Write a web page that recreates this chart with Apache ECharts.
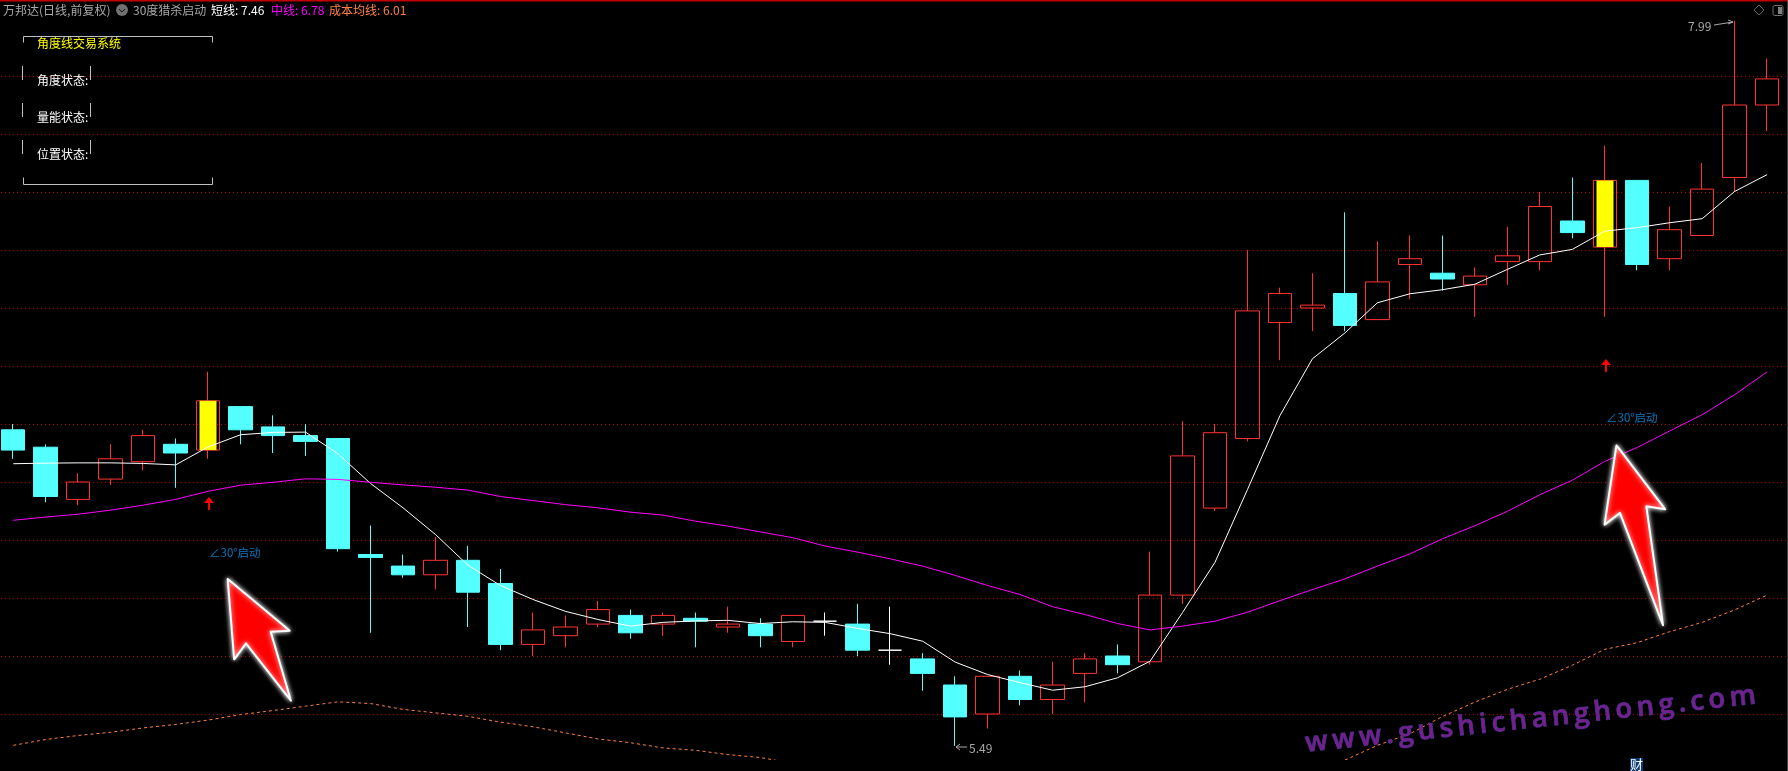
<!DOCTYPE html>
<html>
<head>
<meta charset="utf-8">
<title>万邦达</title>
<style>
  html, body { margin: 0; padding: 0; background: #000; }
  #main { width: 1788px; height: 771px; }
</style>
<script src="https://cdn.jsdelivr.net/npm/echarts@6/dist/echarts.min.js"></script>
</head>
<body>
<div id="main"></div>
<script>
// 日线数据
const openPrice = [6.58, 6.52, 6.34, 6.41, 6.47, 6.53, 6.51, 6.66, 6.59, 6.56, 6.55, 6.15, 6.11, 6.08, 6.13, 6.05, 5.84, 5.87, 5.91, 5.94, 5.91, 5.93, 5.90, 5.91, 5.85, 5.92, 5.91, 5.82, 5.79, 5.70, 5.60, 5.73, 5.65, 5.74, 5.80, 5.78, 6.01, 6.31, 6.55, 6.95, 7.00, 7.05, 6.96, 7.15, 7.12, 7.08, 7.16, 7.16, 7.30, 7.21, 7.44, 7.17, 7.25, 7.45, 7.70];
const closePrice = [6.51, 6.35, 6.40, 6.48, 6.56, 6.50, 6.68, 6.58, 6.56, 6.54, 6.17, 6.14, 6.08, 6.13, 6.02, 5.84, 5.89, 5.90, 5.96, 5.88, 5.94, 5.92, 5.91, 5.87, 5.94, 5.92, 5.82, 5.82, 5.74, 5.59, 5.73, 5.65, 5.70, 5.79, 5.77, 6.01, 6.49, 6.57, 6.99, 7.05, 7.01, 6.94, 7.09, 7.17, 7.10, 7.11, 7.18, 7.35, 7.26, 7.44, 7.15, 7.27, 7.41, 7.70, 7.79];
const lowPrice = [6.48, 6.33, 6.32, 6.39, 6.44, 6.38, 6.48, 6.53, 6.50, 6.49, 6.16, 5.88, 6.07, 6.03, 5.90, 5.82, 5.80, 5.83, 5.90, 5.86, 5.87, 5.83, 5.88, 5.83, 5.83, 5.87, 5.80, 5.77, 5.68, 5.49, 5.55, 5.63, 5.60, 5.64, 5.74, 5.77, 5.98, 6.30, 6.54, 6.82, 6.92, 6.92, 6.96, 7.03, 7.06, 6.97, 7.08, 7.13, 7.24, 6.97, 7.13, 7.13, 7.25, 7.40, 7.61];
const highPrice = [6.60, 6.53, 6.43, 6.53, 6.58, 6.55, 6.78, 6.66, 6.63, 6.60, 6.55, 6.25, 6.15, 6.21, 6.18, 6.10, 5.95, 5.94, 5.99, 5.96, 5.95, 5.95, 5.97, 5.93, 5.94, 5.95, 5.98, 5.97, 5.81, 5.73, 5.73, 5.75, 5.78, 5.81, 5.84, 6.16, 6.61, 6.60, 7.20, 7.07, 7.12, 7.33, 7.23, 7.25, 7.25, 7.14, 7.28, 7.40, 7.45, 7.56, 7.44, 7.35, 7.50, 7.99, 7.86];

// 短线、中线、成本均线
const shortLine = [6.463, 6.465, 6.466, 6.466, 6.464, 6.459, 6.521, 6.563, 6.571, 6.572, 6.497, 6.395, 6.311, 6.219, 6.113, 6.043, 5.995, 5.954, 5.926, 5.903, 5.916, 5.921, 5.923, 5.912, 5.918, 5.916, 5.895, 5.877, 5.851, 5.779, 5.736, 5.708, 5.682, 5.694, 5.725, 5.782, 5.950, 6.123, 6.374, 6.629, 6.825, 6.914, 7.018, 7.049, 7.063, 7.082, 7.133, 7.183, 7.202, 7.265, 7.277, 7.294, 7.308, 7.402, 7.46];
const midLine = [6.268, 6.279, 6.289, 6.303, 6.320, 6.340, 6.368, 6.389, 6.399, 6.411, 6.409, 6.399, 6.390, 6.382, 6.372, 6.350, 6.336, 6.322, 6.311, 6.296, 6.286, 6.265, 6.248, 6.228, 6.208, 6.179, 6.158, 6.135, 6.110, 6.078, 6.043, 6.012, 5.970, 5.943, 5.912, 5.890, 5.903, 5.920, 5.951, 5.991, 6.029, 6.066, 6.110, 6.152, 6.204, 6.249, 6.299, 6.356, 6.406, 6.471, 6.519, 6.576, 6.632, 6.701, 6.78];
// 中间一段低于画面，读不到；第25个点估计，超出部分被底部黑条盖住
const costLine = [5.492, 5.512, 5.526, 5.537, 5.552, 5.564, 5.579, 5.598, 5.612, 5.627, 5.642, 5.636, 5.616, 5.604, 5.592, 5.572, 5.556, 5.535, 5.514, 5.501, 5.483, 5.475, 5.460, 5.450, 5.43, null, null, null, null, null, null, null, null, null, null, null, null, null, null, null, null, 5.441, 5.492, 5.532, 5.591, 5.641, 5.685, 5.720, 5.768, 5.823, 5.846, 5.884, 5.916, 5.959, 6.01];

// 启动信号所在的K线
const signalIndex = [6, 49];

// 比K线多留一格，让网格线画到右边
const categories = openPrice.map((_, i) => String(i + 1)).concat(['']);
const candleData = openPrice.map((o, i) => [o, closePrice[i], lowPrice[i], highPrice[i]]);
const signalData = openPrice.map((o, i) =>
  signalIndex.includes(i) ? [o, closePrice[i], o, closePrice[i]] : ['-', '-', '-', '-']
);

const FONT = '"Noto Sans CJK SC", sans-serif';
const RED = '#ff3232';
const CYAN = '#54ffff';

function label(text, x, y, fill, size) {
  return {
    type: 'text',
    x: x,
    y: y,
    z: 20,
    style: { text: text, fill: fill, fontSize: size || 12, fontFamily: FONT, verticalAlign: 'middle' }
  };
}

function poly(points, color) {
  return {
    type: 'polyline',
    z: 20,
    shape: { points: points },
    style: { stroke: color || '#c0c0c0', lineWidth: 1, fill: null }
  };
}

function bigArrow(points) {
  return {
    type: 'polygon',
    z: 15,
    shape: { points: points },
    style: { fill: '#ff0000', stroke: '#ffffff', lineWidth: 2, lineJoin: 'round', shadowBlur: 5, shadowColor: '#ffffff' }
  };
}

function smallArrow(x, top) {
  return {
    type: 'polygon',
    z: 15,
    shape: {
      points: [[x, top], [x + 5, top + 6], [x + 1, top + 6], [x + 1, top + 13], [x - 1, top + 13], [x - 1, top + 6], [x - 5, top + 6]]
    },
    style: { fill: '#ff0000' }
  };
}

const graphicItems = [
  // 顶部红线
  { type: 'rect', z: 20, shape: { x: 0, y: 0, width: 1788, height: 1.5 }, style: { fill: '#c00000' } },
  { type: 'rect', z: 20, shape: { x: 1787, y: 0, width: 1, height: 771 }, style: { fill: '#444444' } },
  // 底部黑条，主图到这里为止
  { type: 'rect', z: 10, shape: { x: 0, y: 760, width: 1787, height: 11 }, style: { fill: '#000000' } },

  // 标题行
  label('万邦达(日线,前复权)', 3, 10, '#a8a8a8'),
  { type: 'circle', z: 20, shape: { cx: 122, cy: 10, r: 6 }, style: { fill: '#707070' } },
  poly([[119, 9], [122, 12], [125, 9]], '#111111'),
  label('30度猎杀启动', 133, 10, '#a8a8a8'),
  label('短线: 7.46', 211, 10, '#ffffff'),
  label('中线: 6.78', 271, 10, '#ff00ff'),
  label('成本均线: 6.01', 329, 10, '#ff8040'),

  // 右上角图标
  { type: 'polygon', z: 20, shape: { points: [[1759, 5], [1764, 10], [1759, 15], [1754, 10]] }, style: { fill: null, stroke: '#606060' } },
  { type: 'rect', z: 20, shape: { x: 1773, y: 5.5, width: 10, height: 10, r: 2 }, style: { fill: null, stroke: '#707070' } },
  { type: 'rect', z: 20, shape: { x: 1778, y: 7, width: 4, height: 7 }, style: { fill: '#808080' } },

  // 左上角状态框
  poly([[23.5, 42.5], [23.5, 36.5], [212.5, 36.5], [212.5, 42.5]]),
  poly([[23.5, 177.5], [23.5, 184.5], [212.5, 184.5], [212.5, 177.5]]),
  poly([[22.5, 66], [22.5, 80]]),
  poly([[90.5, 66], [90.5, 80]]),
  poly([[22.5, 103], [22.5, 117]]),
  poly([[90.5, 103], [90.5, 117]]),
  poly([[22.5, 140], [22.5, 154]]),
  poly([[90.5, 140], [90.5, 154]]),
  label('角度线交易系统', 37, 43, '#ffff00'),
  label('角度状态:', 37, 80, '#ffffff'),
  label('量能状态:', 37, 117, '#ffffff'),
  label('位置状态:', 37, 154, '#ffffff'),

  // 启动信号
  smallArrow(209, 497),
  smallArrow(1606, 359),
  label('∠30°启动', 209, 553, '#0c78c0', 11.5),
  label('∠30°启动', 1606, 418, '#0c78c0', 11.5),
  bigArrow([[227.7, 579], [289.7, 630.7], [270.6, 631.7], [290.9, 700.7], [246, 643.3], [234.2, 659.3]]),
  bigArrow([[1616.5, 445.4], [1665.2, 509.3], [1646.3, 506.3], [1663, 625.2], [1620, 512.9], [1604.6, 524.6]]),

  // 最高最低标注
  label('7.99', 1688, 26, '#a8a8a8'),
  poly([[1714, 25], [1733, 22], [1728, 20]], '#a8a8a8'),
  poly([[1733, 22], [1728, 24]], '#a8a8a8'),
  label('5.49', 969, 748, '#a8a8a8'),
  poly([[967, 747], [956, 747], [960, 744]], '#a8a8a8'),
  poly([[956, 747], [960, 750]], '#a8a8a8'),

  // 水印
  {
    type: 'text',
    x: 1307,
    y: 758,
    rotation: 0.107,
    z: 18,
    style: {
      text: 'w w w . g u s h i c h a n g h o n g . c o m'.replace(/ /g, '\u2009'),
      fontSize: 27.5,
      fontWeight: 600,
      fontFamily: '"Open Sans", sans-serif',
      verticalAlign: 'bottom',
      fill: '#74208c',
      stroke: '#3a3ca0',
      lineWidth: 0.8
    }
  },
  {
    type: 'text',
    x: 1630,
    y: 758,
    z: 20,
    style: {
      text: '财',
      fill: '#ffffff',
      fontSize: 13,
      fontFamily: FONT,
      backgroundColor: '#0b3a78'
    }
  }
];

const option = {
  animation: false,
  backgroundColor: '#000000',
  grid: {
    left: -3,
    top: 18,
    width: 32.48 * categories.length,
    height: 754,
    outerBoundsMode: 'none'
  },
  xAxis: {
    type: 'category',
    data: categories,
    show: false,
    boundaryGap: true
  },
  yAxis: {
    type: 'value',
    min: 5.4,
    max: 8,
    interval: 0.2,
    axisLine: { show: false },
    axisTick: { show: false },
    axisLabel: { show: false },
    splitLine: {
      show: true,
      showMinLine: false,
      showMaxLine: false,
      lineStyle: { color: '#b00000', width: 1, type: [1, 3] }
    }
  },
  graphic: graphicItems,
  series: [
    {
      name: '短线',
      type: 'line',
      data: shortLine,
      showSymbol: false,
      lineStyle: { color: '#ffffff', width: 1 }
    },
    {
      name: '中线',
      type: 'line',
      data: midLine,
      showSymbol: false,
      lineStyle: { color: '#ff00ff', width: 1 }
    },
    {
      name: '成本均线',
      type: 'line',
      data: costLine,
      showSymbol: false,
      connectNulls: false,
      lineStyle: { color: '#ff8040', width: 1, type: [3, 3] }
    },
    {
      name: 'K线',
      type: 'candlestick',
      data: candleData,
      barWidth: 24,
      itemStyle: {
        color: 'transparent',
        color0: CYAN,
        borderColor: RED,
        borderColor0: CYAN,
        borderColorDoji: '#ffffff',
        borderWidth: 1
      }
    },
    {
      name: '启动',
      type: 'candlestick',
      data: signalData,
      barWidth: 17,
      itemStyle: {
        color: '#ffff00',
        color0: '#ffff00',
        borderColor: '#ffff00',
        borderColor0: '#ffff00',
        borderWidth: 0
      }
    }
  ]
};

const myChart = echarts.init(document.getElementById('main'));
myChart.setOption(option);
</script>
</body>
</html>
